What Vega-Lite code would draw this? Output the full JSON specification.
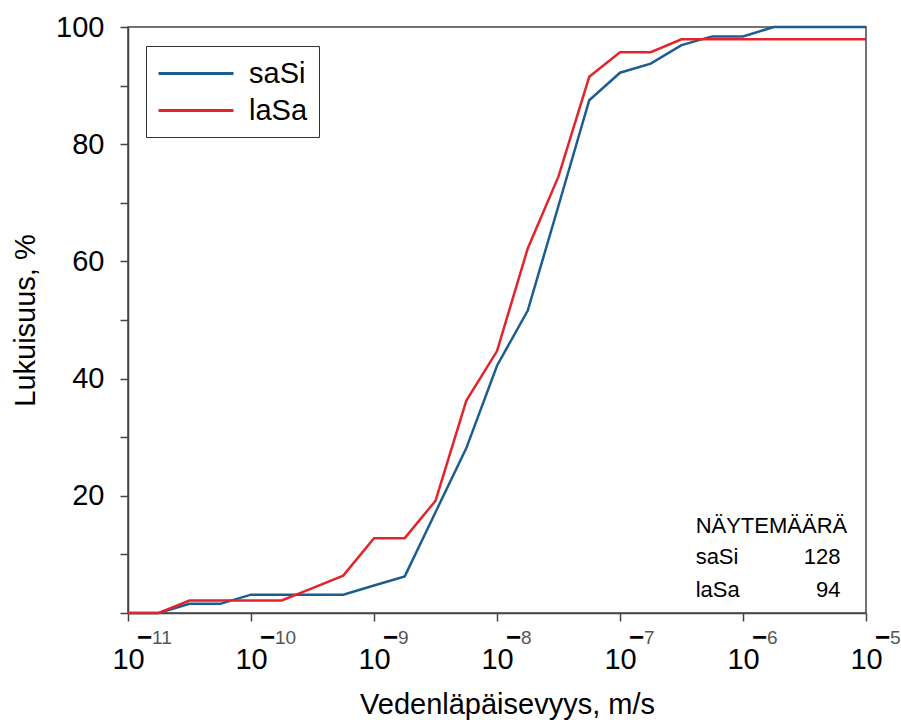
{
  "$schema": "https://vega.github.io/schema/vega-lite/v6.json",
  "width": 738,
  "height": 586,
  "autosize": {"type": "none"},
  "padding": {"left": 128, "top": 27, "right": 35, "bottom": 107},
  "background": "white",
  "config": {
    "font": "Liberation Sans",
    "view": {"stroke": "#444", "strokeWidth": 1.5},
    "axis": {"domainColor": "#444", "domainWidth": 1.5, "tickColor": "#444", "tickWidth": 1.5, "grid": false, "labelColor": "black", "titleColor": "black", "labelFont": "Liberation Sans", "titleFont": "Liberation Sans", "titleFontWeight": "normal"}
  },
  "datasets": {
    "curves": [
      {"k": 1e-11, "series": "saSi", "pct": 0},
      {"k": 1.778e-11, "series": "saSi", "pct": 0},
      {"k": 3.162e-11, "series": "saSi", "pct": 1.56},
      {"k": 5.623e-11, "series": "saSi", "pct": 1.56},
      {"k": 1e-10, "series": "saSi", "pct": 3.13},
      {"k": 1.778e-10, "series": "saSi", "pct": 3.13},
      {"k": 3.162e-10, "series": "saSi", "pct": 3.13},
      {"k": 5.623e-10, "series": "saSi", "pct": 3.13},
      {"k": 1e-9, "series": "saSi", "pct": 4.69},
      {"k": 1.778e-9, "series": "saSi", "pct": 6.25},
      {"k": 3.162e-9, "series": "saSi", "pct": 17.2},
      {"k": 5.623e-9, "series": "saSi", "pct": 28.1},
      {"k": 1e-8, "series": "saSi", "pct": 42.2},
      {"k": 1.778e-8, "series": "saSi", "pct": 51.6},
      {"k": 3.162e-8, "series": "saSi", "pct": 69.5},
      {"k": 5.623e-8, "series": "saSi", "pct": 87.5},
      {"k": 1e-7, "series": "saSi", "pct": 92.2},
      {"k": 1.778e-7, "series": "saSi", "pct": 93.75},
      {"k": 3.162e-7, "series": "saSi", "pct": 96.9},
      {"k": 5.623e-7, "series": "saSi", "pct": 98.4},
      {"k": 1e-6, "series": "saSi", "pct": 98.4},
      {"k": 1.778e-6, "series": "saSi", "pct": 100},
      {"k": 3.162e-6, "series": "saSi", "pct": 100},
      {"k": 5.623e-6, "series": "saSi", "pct": 100},
      {"k": 1e-5, "series": "saSi", "pct": 100},
      {"k": 1e-11, "series": "laSa", "pct": 0},
      {"k": 1.778e-11, "series": "laSa", "pct": 0},
      {"k": 3.162e-11, "series": "laSa", "pct": 2.13},
      {"k": 5.623e-11, "series": "laSa", "pct": 2.13},
      {"k": 1e-10, "series": "laSa", "pct": 2.13},
      {"k": 1.778e-10, "series": "laSa", "pct": 2.13},
      {"k": 3.162e-10, "series": "laSa", "pct": 4.26},
      {"k": 5.623e-10, "series": "laSa", "pct": 6.38},
      {"k": 1e-9, "series": "laSa", "pct": 12.77},
      {"k": 1.778e-9, "series": "laSa", "pct": 12.77},
      {"k": 3.162e-9, "series": "laSa", "pct": 19.15},
      {"k": 5.623e-9, "series": "laSa", "pct": 36.2},
      {"k": 1e-8, "series": "laSa", "pct": 44.7},
      {"k": 1.778e-8, "series": "laSa", "pct": 62.2},
      {"k": 3.162e-8, "series": "laSa", "pct": 74.5},
      {"k": 5.623e-8, "series": "laSa", "pct": 91.5},
      {"k": 1e-7, "series": "laSa", "pct": 95.7},
      {"k": 1.778e-7, "series": "laSa", "pct": 95.7},
      {"k": 3.162e-7, "series": "laSa", "pct": 97.9},
      {"k": 5.623e-7, "series": "laSa", "pct": 97.9},
      {"k": 1e-6, "series": "laSa", "pct": 97.9},
      {"k": 1.778e-6, "series": "laSa", "pct": 97.9},
      {"k": 3.162e-6, "series": "laSa", "pct": 97.9},
      {"k": 5.623e-6, "series": "laSa", "pct": 97.9},
      {"k": 1e-5, "series": "laSa", "pct": 97.9}
    ],
    "decades": [
      {"k": 1e-11, "exp": "11"},
      {"k": 1e-10, "exp": "10"},
      {"k": 1e-9, "exp": "9"},
      {"k": 1e-8, "exp": "8"},
      {"k": 1e-7, "exp": "7"},
      {"k": 1e-6, "exp": "6"},
      {"k": 1e-5, "exp": "5"}
    ],
    "counts": [
      {"name": "saSi", "n": "128", "row": 8.37},
      {"name": "laSa", "n": "94", "row": 2.68}
    ]
  },
  "layer": [
    {
      "data": {"name": "curves"},
      "mark": {"type": "line", "strokeWidth": 2.5, "clip": false},
      "encoding": {
        "x": {
          "field": "k", "type": "quantitative",
          "scale": {"type": "log", "domain": [1e-11, 1e-5], "nice": false},
          "axis": {
            "values": [1e-11, 1e-10, 1e-9, 1e-8, 1e-7, 1e-6, 1e-5],
            "labelExpr": "'10'",
            "labelFontSize": 29,
            "tickSize": 8,
            "labelPadding": 24,
            "labelFlush": false,
            "labelOverlap": false,
            "title": "Vedenläpäisevyys, m/s",
            "titleFontSize": 29,
            "titlePadding": 16,
            "titleX": 379
          }
        },
        "y": {
          "field": "pct", "type": "quantitative",
          "scale": {"domain": [0, 100], "nice": false},
          "axis": {
            "values": [0, 10, 20, 30, 40, 50, 60, 70, 80, 90, 100],
            "labelExpr": "datum.value % 20 == 0 && datum.value > 0 ? datum.label : ''",
            "labelFontSize": 29,
            "tickSize": 8,
            "labelPadding": 16,
            "title": "Lukuisuus, %",
            "titleFontSize": 29,
            "titlePadding": 15
          }
        },
        "color": {
          "field": "series", "type": "nominal",
          "scale": {"domain": ["saSi", "laSa"], "range": ["#1c5d90", "#e2242c"]},
          "legend": {
            "orient": "none",
            "legendX": 18,
            "legendY": 19,
            "title": null,
            "padding": 11,
            "strokeColor": "#333",
            "fillColor": "white",
            "symbolType": "M-1,0H4",
            "symbolSize": 900,
            "symbolStrokeWidth": 3,
            "labelFontSize": 29,
            "labelOffset": 59,
            "rowPadding": 5,
            "labelFont": "Liberation Sans",
            "labelColor": "black"
          }
        }
      }
    },
    {
      "data": {"name": "decades"},
      "mark": {"type": "text", "text": "−", "fontWeight": "bold", "fontSize": 26, "align": "left", "baseline": "alphabetic", "dx": 9, "dy": 33, "color": "black"},
      "encoding": {
        "x": {"field": "k", "type": "quantitative"},
        "y": {"datum": 0}
      }
    },
    {
      "data": {"name": "decades"},
      "mark": {"type": "text", "fontSize": 19, "align": "left", "baseline": "alphabetic", "dx": 24, "dy": 31, "color": "#555"},
      "encoding": {
        "x": {"field": "k", "type": "quantitative"},
        "y": {"datum": 0},
        "text": {"field": "exp"}
      }
    },
    {
      "data": {"values": [{"t": "NÄYTEMÄÄRÄ"}]},
      "mark": {"type": "text", "fontSize": 22, "align": "left", "baseline": "alphabetic", "color": "black"},
      "encoding": {
        "x": {"datum": 4.12e-7},
        "y": {"datum": 13.6},
        "text": {"field": "t"}
      }
    },
    {
      "data": {"name": "counts"},
      "mark": {"type": "text", "fontSize": 22, "align": "left", "baseline": "alphabetic", "color": "black"},
      "encoding": {
        "x": {"datum": 4.12e-7},
        "y": {"field": "row", "type": "quantitative"},
        "text": {"field": "name"}
      }
    },
    {
      "data": {"name": "counts"},
      "mark": {"type": "text", "fontSize": 22, "align": "right", "baseline": "alphabetic", "color": "black"},
      "encoding": {
        "x": {"datum": 6.19e-6},
        "y": {"field": "row", "type": "quantitative"},
        "text": {"field": "n"}
      }
    }
  ]
}
